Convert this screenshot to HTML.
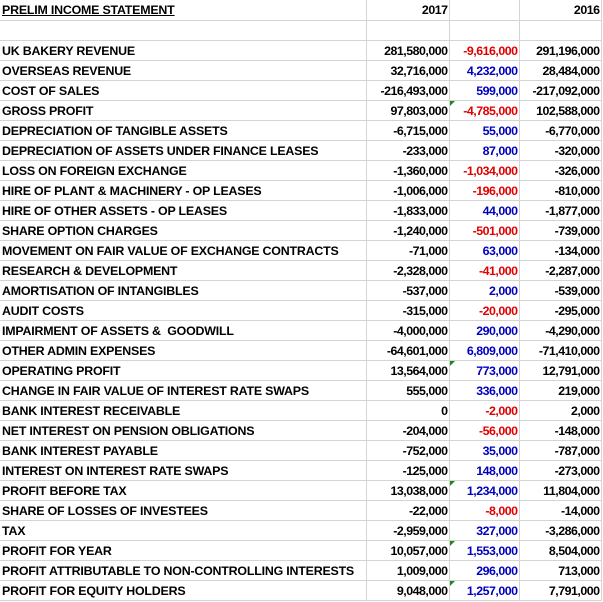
<!DOCTYPE html><html><head><style>
body{margin:0;width:603px;height:602px;background:#fff;overflow:hidden;font-family:"Liberation Sans",Arial,sans-serif;font-weight:bold;font-size:12.4px;color:#000}
table{border-collapse:collapse;table-layout:fixed;position:absolute;left:0;top:0}
td{border:1px solid #d4d4d4;height:19px;max-height:19px;padding:0 2px;white-space:nowrap;overflow:hidden;line-height:19px;position:relative;letter-spacing:-0.2px;box-sizing:border-box}
td span{position:relative;top:1px}
td.n{text-align:right;letter-spacing:-0.5px;padding-right:1px}
.r{color:#e00000}.b{color:#0000c0}
.g::before{content:"";position:absolute;left:0;top:0;border-top:5px solid #1a8a1a;border-right:5px solid transparent}
tr{height:20px}
tr:first-child td{border-top:none}
td:first-child{border-left:none}
</style></head><body>
<table>
<colgroup><col style="width:366px"><col style="width:83px"><col style="width:70px"><col style="width:82px"></colgroup>
<tr><td><span><u>PRELIM INCOME STATEMENT</u></span></td><td class="n"><span>2017</span></td><td></td><td class="n"><span>2016</span></td></tr>
<tr><td></td><td></td><td></td><td></td></tr>
<tr><td><span>UK BAKERY REVENUE</span></td><td class="n"><span>281,580,000</span></td><td class="n r"><span>-9,616,000</span></td><td class="n"><span>291,196,000</span></td></tr>
<tr><td><span>OVERSEAS REVENUE</span></td><td class="n"><span>32,716,000</span></td><td class="n b"><span>4,232,000</span></td><td class="n"><span>28,484,000</span></td></tr>
<tr><td><span>COST OF SALES</span></td><td class="n"><span>-216,493,000</span></td><td class="n b"><span>599,000</span></td><td class="n"><span>-217,092,000</span></td></tr>
<tr><td><span>GROSS PROFIT</span></td><td class="n"><span>97,803,000</span></td><td class="n r g"><span>-4,785,000</span></td><td class="n"><span>102,588,000</span></td></tr>
<tr><td><span>DEPRECIATION OF TANGIBLE ASSETS</span></td><td class="n"><span>-6,715,000</span></td><td class="n b"><span>55,000</span></td><td class="n"><span>-6,770,000</span></td></tr>
<tr><td><span>DEPRECIATION OF ASSETS UNDER FINANCE LEASES</span></td><td class="n"><span>-233,000</span></td><td class="n b"><span>87,000</span></td><td class="n"><span>-320,000</span></td></tr>
<tr><td><span>LOSS ON FOREIGN EXCHANGE</span></td><td class="n"><span>-1,360,000</span></td><td class="n r"><span>-1,034,000</span></td><td class="n"><span>-326,000</span></td></tr>
<tr><td><span>HIRE OF PLANT &amp; MACHINERY - OP LEASES</span></td><td class="n"><span>-1,006,000</span></td><td class="n r"><span>-196,000</span></td><td class="n"><span>-810,000</span></td></tr>
<tr><td><span>HIRE OF OTHER ASSETS - OP LEASES</span></td><td class="n"><span>-1,833,000</span></td><td class="n b"><span>44,000</span></td><td class="n"><span>-1,877,000</span></td></tr>
<tr><td><span>SHARE OPTION CHARGES</span></td><td class="n"><span>-1,240,000</span></td><td class="n r"><span>-501,000</span></td><td class="n"><span>-739,000</span></td></tr>
<tr><td><span>MOVEMENT ON FAIR VALUE OF EXCHANGE CONTRACTS</span></td><td class="n"><span>-71,000</span></td><td class="n b"><span>63,000</span></td><td class="n"><span>-134,000</span></td></tr>
<tr><td><span>RESEARCH &amp; DEVELOPMENT</span></td><td class="n"><span>-2,328,000</span></td><td class="n r"><span>-41,000</span></td><td class="n"><span>-2,287,000</span></td></tr>
<tr><td><span>AMORTISATION OF INTANGIBLES</span></td><td class="n"><span>-537,000</span></td><td class="n b"><span>2,000</span></td><td class="n"><span>-539,000</span></td></tr>
<tr><td><span>AUDIT COSTS</span></td><td class="n"><span>-315,000</span></td><td class="n r"><span>-20,000</span></td><td class="n"><span>-295,000</span></td></tr>
<tr><td><span>IMPAIRMENT OF ASSETS &amp;&nbsp; GOODWILL</span></td><td class="n"><span>-4,000,000</span></td><td class="n b"><span>290,000</span></td><td class="n"><span>-4,290,000</span></td></tr>
<tr><td><span>OTHER ADMIN EXPENSES</span></td><td class="n"><span>-64,601,000</span></td><td class="n b"><span>6,809,000</span></td><td class="n"><span>-71,410,000</span></td></tr>
<tr><td><span>OPERATING PROFIT</span></td><td class="n"><span>13,564,000</span></td><td class="n b g"><span>773,000</span></td><td class="n"><span>12,791,000</span></td></tr>
<tr><td><span>CHANGE IN FAIR VALUE OF INTEREST RATE SWAPS</span></td><td class="n"><span>555,000</span></td><td class="n b"><span>336,000</span></td><td class="n"><span>219,000</span></td></tr>
<tr><td><span>BANK INTEREST RECEIVABLE</span></td><td class="n"><span>0</span></td><td class="n r"><span>-2,000</span></td><td class="n"><span>2,000</span></td></tr>
<tr><td><span>NET INTEREST ON PENSION OBLIGATIONS</span></td><td class="n"><span>-204,000</span></td><td class="n r"><span>-56,000</span></td><td class="n"><span>-148,000</span></td></tr>
<tr><td><span>BANK INTEREST PAYABLE</span></td><td class="n"><span>-752,000</span></td><td class="n b"><span>35,000</span></td><td class="n"><span>-787,000</span></td></tr>
<tr><td><span>INTEREST ON INTEREST RATE SWAPS</span></td><td class="n"><span>-125,000</span></td><td class="n b"><span>148,000</span></td><td class="n"><span>-273,000</span></td></tr>
<tr><td><span>PROFIT BEFORE TAX</span></td><td class="n"><span>13,038,000</span></td><td class="n b g"><span>1,234,000</span></td><td class="n"><span>11,804,000</span></td></tr>
<tr><td><span>SHARE OF LOSSES OF INVESTEES</span></td><td class="n"><span>-22,000</span></td><td class="n r"><span>-8,000</span></td><td class="n"><span>-14,000</span></td></tr>
<tr><td><span>TAX</span></td><td class="n"><span>-2,959,000</span></td><td class="n b"><span>327,000</span></td><td class="n"><span>-3,286,000</span></td></tr>
<tr><td><span>PROFIT FOR YEAR</span></td><td class="n"><span>10,057,000</span></td><td class="n b g"><span>1,553,000</span></td><td class="n"><span>8,504,000</span></td></tr>
<tr><td><span>PROFIT ATTRIBUTABLE TO NON-CONTROLLING INTERESTS</span></td><td class="n"><span>1,009,000</span></td><td class="n b"><span>296,000</span></td><td class="n"><span>713,000</span></td></tr>
<tr><td><span>PROFIT FOR EQUITY HOLDERS</span></td><td class="n"><span>9,048,000</span></td><td class="n b g"><span>1,257,000</span></td><td class="n"><span>7,791,000</span></td></tr>
</table>
</body></html>
